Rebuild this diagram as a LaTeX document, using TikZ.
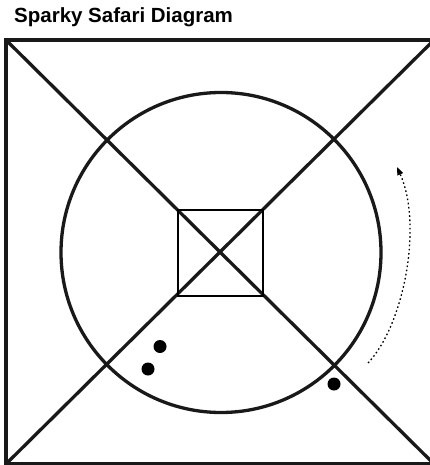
\documentclass[tikz,border=0pt]{standalone}
\usepackage{fontspec}
\setmainfont{Liberation Sans}
\usetikzlibrary{arrows.meta}
\begin{document}
\begin{tikzpicture}[x=1pt,y=-1pt,
  fieldline/.style={line width=3.3pt,color=black!90},
  pathline/.style={line width=1.3pt,dash pattern=on 1.6pt off 2.6pt,
    -{Triangle[length=8pt,width=6pt]}}]
\useasboundingbox (0,0) rectangle (430,465);

% Title
\node[anchor=base west,inner sep=0pt,
  font=\bfseries\fontsize{20.5}{24}\selectfont] (title) at (14,23)
{Sparky Safari Diagram};

% Field
\draw[fieldline] (6,40) rectangle (434,464);
\draw[fieldline] (6,40) -- (434,464);
\draw[fieldline] (6,464) -- (434,40);
\draw[fieldline] (221,252.5) circle (160);
\draw[line width=1.6pt] (178,210) rectangle (263,296);

% Players
\foreach \x/\y in {
160/346.5,
148/369,
334/384
}
{
\fill (\x,\y) circle (6.5);
}

% Run
\draw[pathline] (368,363) .. controls (404,325) and (423,225) .. (397,167);

\end{tikzpicture}
\end{document}
